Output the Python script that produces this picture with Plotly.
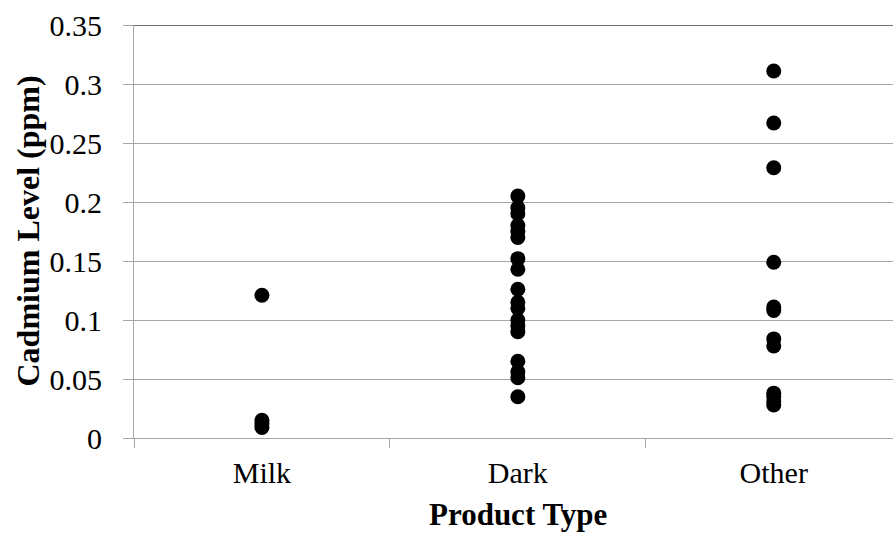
import plotly.graph_objects as go

categories = ["Milk", "Dark", "Other"]
milk = [0.121, 0.015, 0.012, 0.009]
dark = [0.205, 0.195, 0.19, 0.18, 0.175, 0.17, 0.152, 0.143, 0.126, 0.115,
        0.11, 0.1, 0.095, 0.09, 0.065, 0.056, 0.051, 0.035]
other = [0.311, 0.267, 0.229, 0.149, 0.111, 0.108, 0.084, 0.078, 0.038,
         0.035, 0.031, 0.028]
y_ticks = [0, 0.05, 0.1, 0.15, 0.2, 0.25, 0.3, 0.35]
y_ticktext = ["0", "0.05", "0.1", "0.15", "0.2", "0.25", "0.3", "0.35"]

xs, ys = [], []
for cat, vals in zip(categories, [milk, dark, other]):
    xs += [cat] * len(vals)
    ys += vals

font = "Liberation Serif, Times New Roman, serif"
grid = "#a6a6a6"

fig = go.Figure()
fig.add_trace(go.Scatter(x=xs, y=ys, mode="markers",
                         marker=dict(size=15, color="black"),
                         showlegend=False, hoverinfo="y"))

fig.update_layout(
    width=893, height=533,
    margin=dict(l=134, r=0, t=25, b=95),
    paper_bgcolor="white", plot_bgcolor="white",
    font=dict(family=font, size=30, color="black"),
    xaxis=dict(type="category", categoryorder="array", categoryarray=categories,
               range=[-0.5, 2.466], tickson="boundaries", ticks="outside",
               ticklen=9, tickcolor=grid, tickwidth=1, showgrid=False,
               showline=True, linecolor=grid, linewidth=1, zeroline=False,
               ticklabelstandoff=8,
               tickfont=dict(family=font, size=30, color="black")),
    yaxis=dict(range=[0, 0.35], tickvals=y_ticks, ticktext=y_ticktext,
               ticks="outside", ticklen=10, tickcolor=grid, tickwidth=1,
               showgrid=True, gridcolor=grid, gridwidth=1,
               showline=True, linecolor=grid, linewidth=1, zeroline=False,
               ticklabelstandoff=15,
               tickfont=dict(family=font, size=30, color="black")),
    shapes=[dict(type="line", xref="paper", x0=0, x1=1, yref="y",
                 y0=y_ticks[-1], y1=y_ticks[-1], line=dict(color="#404040", width=1.5))],
    annotations=[
        dict(text="<b>Cadmium Level (ppm)</b>", textangle=-90, xref="paper",
             yref="paper", x=0, y=0.5, xanchor="center", yanchor="middle",
             xshift=-107, showarrow=False,
             font=dict(family=font, size=32, color="black")),
        dict(text="<b>Product Type</b>", xref="x", yref="paper", x="Dark", y=0,
             xanchor="center", yanchor="bottom", yshift=-95, borderpad=0,
             showarrow=False,
             font=dict(family=font, size=31, color="black")),
    ],
)

fig.write_html("out.html", config={"displayModeBar": False},
               post_script="document.body.style.margin='0px';")
